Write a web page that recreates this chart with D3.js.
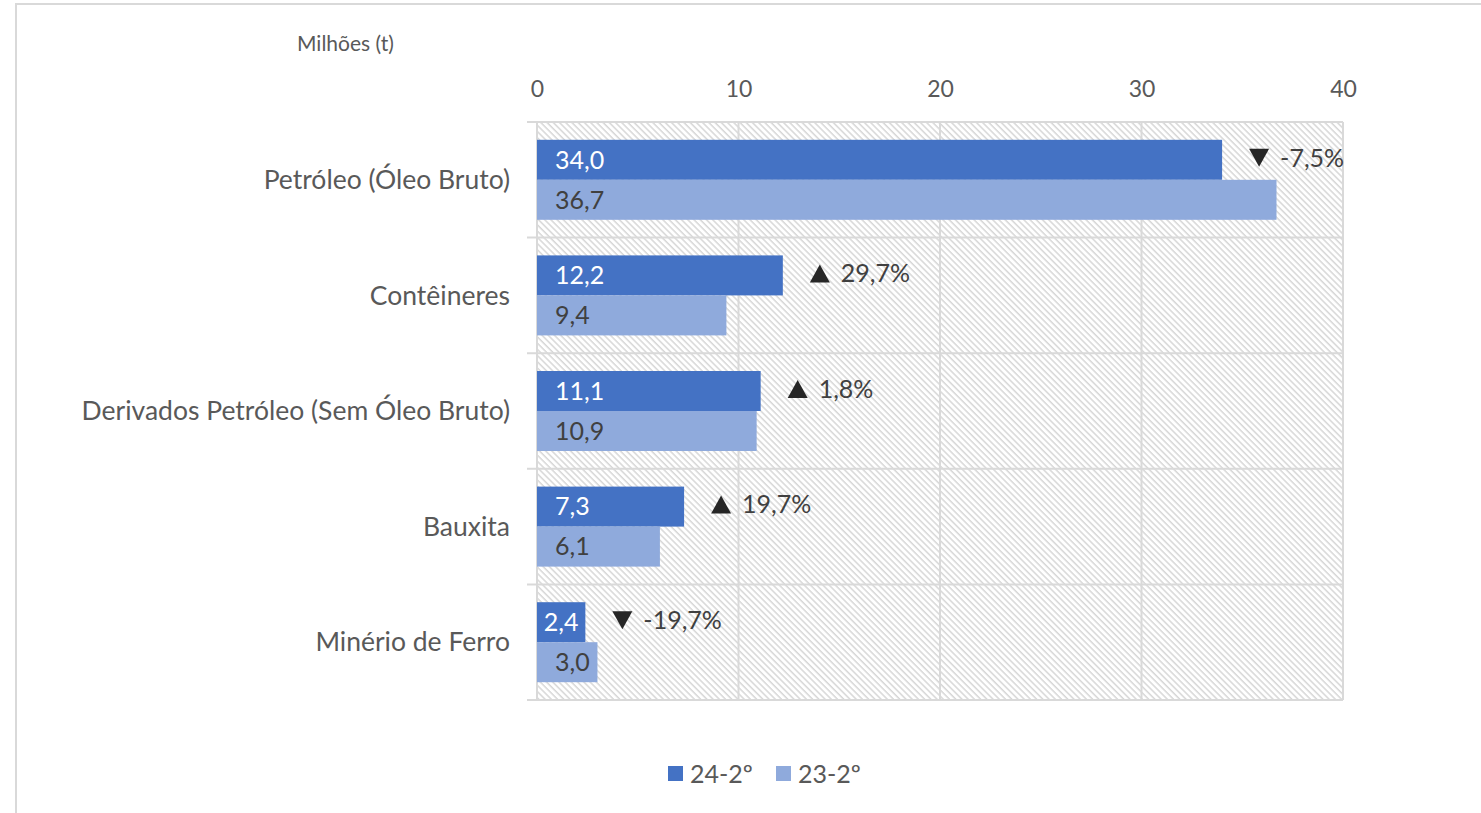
<!DOCTYPE html>
<html lang="pt">
<head>
  <meta charset="UTF-8">
  <title>Movimentação por mercadoria</title>
  <script src="https://cdnjs.cloudflare.com/ajax/libs/d3/7.8.5/d3.min.js"></script>
  <style>
    body { margin: 0; background: #fff; }
    svg { display: block; }
    text { font-family: Lato, "Open Sans", sans-serif; }
  </style>
</head>
<body>
  <svg id="chart" width="1481" height="813"></svg>
  <script>
    // dados
    const categorias = ["Petróleo (Óleo Bruto)", "Contêineres", "Derivados Petróleo (Sem Óleo Bruto)", "Bauxita", "Minério de Ferro"];
    const series = ["24-2º", "23-2º"];
    const valores24 = [34.0, 12.2, 11.1, 7.3, 2.4];
    const valores23 = [36.7, 9.4, 10.9, 6.1, 3.0];
    const variacao = [-7.5, 29.7, 1.8, 19.7, -19.7];
    const ticks = [0, 10, 20, 30, 40];
    const cores = ["#4472C4", "#8FAADC"];

    const svg = d3.select("#chart");
    const pLeft = 537, pRight = 1343, pTop = 122, pBottom = 700;
    const fmt = v => d3.format(".1f")(v).replace(".", ",").replace("\u2212", "-");

    // moldura
    svg.append("path")
      .attr("d", "M16,813 V4 H1481")
      .attr("fill", "none")
      .attr("stroke", "#d9d9d9")
      .attr("stroke-width", 2);

    // hachura
    const pat = svg.append("defs").append("pattern")
      .attr("id", "hatch")
      .attr("patternUnits", "userSpaceOnUse")
      .attr("width", 4.4).attr("height", 4.4)
      .attr("patternTransform", "rotate(-45)");
    pat.append("rect").attr("width", 4.4).attr("height", 4.4).attr("fill", "#fff");
    pat.append("line")
      .attr("x1", 1).attr("y1", 0).attr("x2", 1).attr("y2", 4.4)
      .attr("stroke", "#d4d4d4").attr("stroke-width", 1.4);

    const x = d3.scaleLinear().domain([0, 40]).range([pLeft, pRight]);
    const y = d3.scaleBand().domain(categorias).range([pTop, pBottom]).padding(0);
    const ys = d3.scaleBand().domain(series).range([0, y.bandwidth()]).paddingInner(0).paddingOuter(0.445);

    svg.append("rect")
      .attr("x", pLeft).attr("y", pTop)
      .attr("width", pRight - pLeft).attr("height", pBottom - pTop)
      .attr("fill", "url(#hatch)");

    // grade vertical
    svg.append("g").selectAll("line")
      .data(ticks)
      .join("line")
      .attr("x1", d => x(d)).attr("x2", d => x(d))
      .attr("y1", pTop).attr("y2", pBottom)
      .attr("stroke", "#d9d9d9").attr("stroke-width", 2);

    // separadores das categorias
    const limites = categorias.map(c => y(c)).concat([pBottom]);
    svg.append("g").selectAll("line")
      .data(limites)
      .join("line")
      .attr("x1", pLeft - 10).attr("x2", pRight)
      .attr("y1", d => d).attr("y2", d => d)
      .attr("stroke", "#d9d9d9").attr("stroke-width", 2);

    // eixo superior
    const eixo = svg.append("g")
      .attr("transform", `translate(0,${pTop})`)
      .call(d3.axisTop(x).tickValues(ticks).tickSize(0).tickPadding(25).tickFormat(d3.format("d")));
    eixo.select(".domain").remove();
    eixo.selectAll("text")
      .attr("font-size", 23)
      .attr("fill", "#595959")
      .style("font-family", "Lato, sans-serif");

    svg.append("text")
      .attr("x", 297).attr("y", 51)
      .attr("font-size", 21)
      .attr("fill", "#595959")
      .text("Milhões (t)");

    // rótulos das categorias
    svg.append("g").selectAll("text")
      .data(categorias)
      .join("text")
      .attr("x", 510)
      .attr("y", d => y(d) + y.bandwidth() / 2)
      .attr("dy", "0.35em")
      .attr("text-anchor", "end")
      .attr("font-size", 26.5)
      .attr("fill", "#595959")
      .text(d => d);

    // barras
    const linhas = categorias.map((c, i) => ({ c, vals: [valores24[i], valores23[i]], varp: variacao[i] }));
    const grupos = svg.append("g").selectAll("g")
      .data(linhas)
      .join("g")
      .attr("transform", d => `translate(0,${y(d.c)})`);

    const barras = grupos.selectAll("g")
      .data(d => d.vals.map((v, j) => ({ v, s: series[j], j })))
      .join("g");

    barras.append("rect")
      .attr("x", x(0))
      .attr("y", d => ys(d.s))
      .attr("width", d => x(d.v) - x(0))
      .attr("height", ys.bandwidth())
      .attr("fill", d => cores[d.j]);

    barras.append("text")
      .attr("y", d => ys(d.s) + ys.bandwidth() / 2)
      .attr("dy", "0.35em")
      .attr("font-size", 25)
      .attr("fill", d => d.j === 0 ? "#ffffff" : "#404040")
      .text(d => fmt(d.v))
      .each(function (d) {
        const w = this.getComputedTextLength();
        const bw = x(d.v) - x(0);
        const xs = bw < w + 18 ? x(0) + (bw - w) / 2 : x(0) + 18;
        d3.select(this).attr("x", xs);
      });

    // variação
    grupos.append("path")
      .attr("transform", d => `translate(${x(d.vals[0]) + 37},${ys(series[0]) + ys.bandwidth() / 2 - 2})`)
      .attr("d", d => d.varp < 0 ? "M-10,-9 L10,-9 L0,9 Z" : "M-10,9 L10,9 L0,-9 Z")
      .attr("fill", "#262626");

    grupos.append("text")
      .attr("x", d => x(d.vals[0]) + 58)
      .attr("y", d => ys(series[0]) + ys.bandwidth() / 2 - 2)
      .attr("dy", "0.35em")
      .attr("font-size", 25)
      .attr("fill", "#404040")
      .text(d => fmt(d.varp) + "%");

    // legenda
    const leg = svg.append("g").attr("transform", "translate(668,766)");
    const itens = leg.selectAll("g")
      .data(series)
      .join("g")
      .attr("transform", (d, i) => `translate(${i * 108},0)`);
    itens.append("rect")
      .attr("width", 15).attr("height", 15)
      .attr("fill", (d, i) => cores[i]);
    itens.append("text")
      .attr("x", 22).attr("y", 8)
      .attr("dy", "0.35em")
      .attr("font-size", 25)
      .attr("fill", "#595959")
      .text(d => d);
  </script>
</body>
</html>
